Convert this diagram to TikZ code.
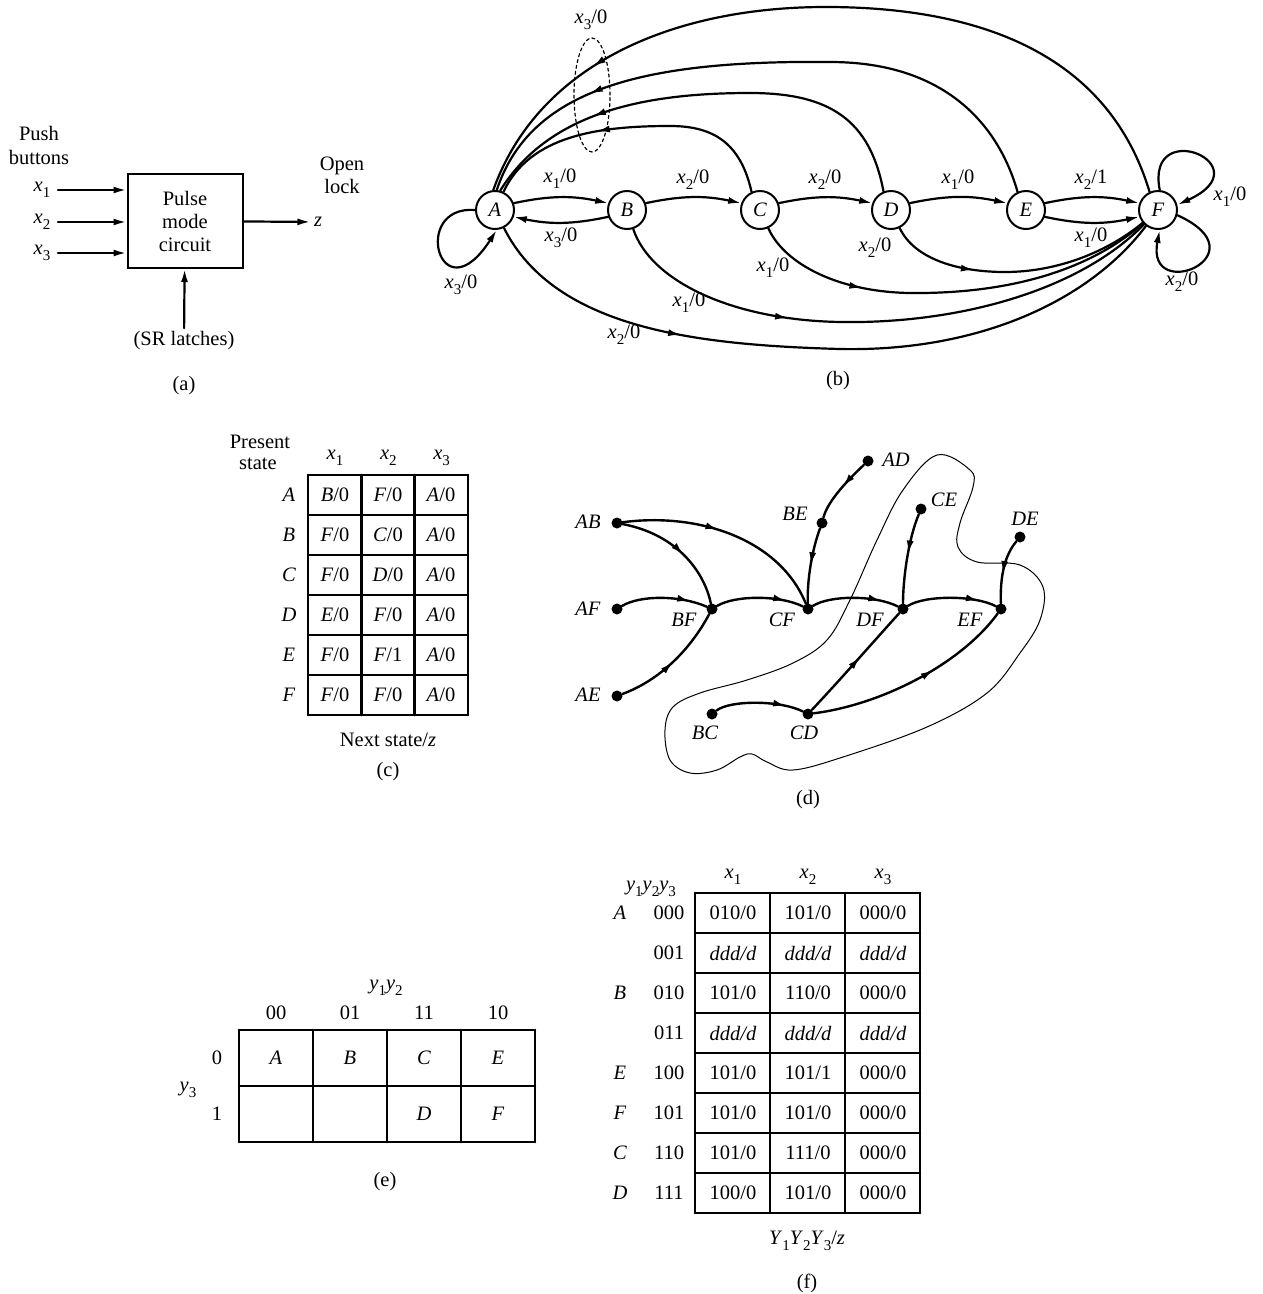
\documentclass[tikz,border=0pt]{standalone}
\usepackage{fontspec}
\setmainfont{Liberation Serif}
\usetikzlibrary{arrows.meta,decorations.markings}

\newcommand{\lbfont}{\fontsize{20.5}{23}\selectfont}
\newcommand{\sbx}[2]{\textit{#1}\raisebox{-0.28em}{\fontsize{15}{15}\selectfont #2}}

\tikzset{
  state/.style={circle, draw, line width=2pt, minimum size=38pt, inner sep=0pt},
  wire/.style={line width=2.2pt},
  dline/.style={line width=2.4pt},
  gridline/.style={line width=2.6pt},
  midarrow/.style={postaction={decorate},
    decoration={markings, mark=at position #1 with {\arrow{>}}}},
  dot/.style={circle, fill, inner sep=0pt, minimum size=11pt},
}

\begin{document}
\begin{tikzpicture}[x=1pt, y=-1pt, font=\lbfont, >={Latex[length=13pt,width=7pt]}, line cap=round]

  %% ==== (a) block diagram ====
  \node (push) at (39,133) {Push};
  \node (buttons) at (39,157) {buttons};
  \node[draw, line width=2pt, minimum width=115pt, minimum height=94pt, align=center]
    (pmc) at (185,221) {Pulse\\mode\\circuit};
  \node (x1) at (42,190) {\sbx{x}{1}};
  \node (x2) at (42,222) {\sbx{x}{2}};
  \node (x3) at (42,253) {\sbx{x}{3}};
  \foreach \n in {x1,x2,x3}
    \draw[wire,->,shorten <=4pt] (\n.east) -- (\n -| pmc.west);
  \node (z) at (318,222) {\textit{z}};
  \draw[wire,->] (pmc) -- (z);
  \node[align=center] (open) at (342,175) {Open\\lock};
  \node (sr) at (184,341) {(SR latches)};
  \draw[wire,->] (sr) -- (pmc);
  \node (capa) at (184,386) {(a)};

  %% ==== (b) state diagram ====
  \node[state] (A) at (495,210) {\textit{A}};
  \node[state] (B) at (627,210) {\textit{B}};
  \node[state] (C) at (760,210) {\textit{C}};
  \node[state] (D) at (891,210) {\textit{D}};
  \node[state] (E) at (1026,210) {\textit{E}};
  \node[state] (F) at (1158,210) {\textit{F}};

  % forward chain
  \draw[wire,->] (A.20) to[bend left=12] (B.160);
  \draw[wire,->] (B.200) to[bend left=12] (A.-20);
  \draw[wire,->] (B.20) to[bend left=12] (C.160);
  \draw[wire,->] (C.20) to[bend left=12] (D.160);
  \draw[wire,->] (D.20) to[bend left=12] (E.160);
  \draw[wire,->] (E.20) to[bend left=12] (F.160);
  \draw[wire,->] (E.-20) to[bend right=12] (F.200);

  % self loops
  \draw[wire,->] (A.west) .. controls (410,205) and (440,318) .. (A.-85);
  \draw[wire,->] (F.85) .. controls (1145,115) and (1265,165) .. (F.15);
  \draw[wire,->] (F.-15) .. controls (1265,255) and (1145,305) .. (F.-85);

  % x3 returns to A
  \draw[wire, midarrow=0.8] (F.115) .. controls (1110,60) and (990,8) .. (830,7)
    .. controls (680,6) and (540,60) .. (A.95);
  \draw[wire, midarrow=0.78] (E.115) .. controls (1000,130) and (950,62) .. (830,62)
    .. controls (640,60) and (530,90) .. (A.85);
  \draw[wire, midarrow=0.74] (D.112) .. controls (870,120) and (830,93) .. (750,93)
    .. controls (650,93) and (550,110) .. (A.75);
  \draw[wire, midarrow=0.62] (C.115) .. controls (740,140) and (710,126) .. (670,126)
    .. controls (600,126) and (530,135) .. (A.65);
  \draw[dashed, line width=1.2pt] (592,95) ellipse (18pt and 57pt);

  % lower edges into F
  \draw[wire, midarrow=0.3] (A) .. controls (555,330) and (700,345) .. (840,349)
    .. controls (980,352) and (1090,300) .. (F);
  \draw[wire, midarrow=0.33] (B) .. controls (650,280) and (730,320) .. (840,322)
    .. controls (960,324) and (1080,290) .. (F);
  \draw[wire, midarrow=0.28] (C) .. controls (785,265) and (840,292) .. (910,293)
    .. controls (1010,294) and (1090,270) .. (F);
  \draw[wire, midarrow=0.33] (D) .. controls (915,260) and (960,272) .. (1005,272)
    .. controls (1060,272) and (1110,250) .. (F);

  % edge labels
  \node (lAB) at (560,179) {\sbx{x}{1}/0};
  \node (lBA) at (561,238) {\sbx{x}{3}/0};
  \node (lBC) at (693,180) {\sbx{x}{2}/0};
  \node (lCD) at (825,180) {\sbx{x}{2}/0};
  \node (lDE) at (958,180) {\sbx{x}{1}/0};
  \node (lEF) at (1091,180) {\sbx{x}{2}/1};
  \node (lEFb) at (1091,238) {\sbx{x}{1}/0};
  \node (lAA) at (461,285) {\sbx{x}{3}/0};
  \node (lFF) at (1230,197) {\sbx{x}{1}/0};
  \node (lFFb) at (1182,282) {\sbx{x}{2}/0};
  \node (lDF) at (875,248) {\sbx{x}{2}/0};
  \node (lCF) at (773,268) {\sbx{x}{1}/0};
  \node (lBF) at (689,303) {\sbx{x}{1}/0};
  \node (lAF) at (624,335) {\sbx{x}{2}/0};
  \node (lback) at (591,20) {\sbx{x}{3}/0};
  \node (capb) at (838,381) {(b)};

  %% ==== (c) state table ====
  \node (present) at (260,442) {Present};
  \node (pstate) at (258,464) {state};
  \foreach \h [count=\j from 0] in {1,2,3}
    \node (hc\h) at ({335+53.3*\j},458) {\sbx{x}{\h}};
  \foreach \gx in {308,361.3,414.7,468}
    \draw[gridline] (\gx,475) -- (\gx,715);
  \foreach \gy in {475,515,...,715}
    \draw[gridline] (308,\gy) -- (468,\gy);
  \foreach \r/\a/\b/\c/\zb [count=\i from 0] in
      {A/B/F/A/0, B/F/C/A/0, C/F/D/A/0, D/E/F/A/0, E/F/F/A/1, F/F/F/A/0} {
    \node (ps\r) at (289,{495+40*\i}) {\textit{\r}};
    \node (ns\r1) at (335,{495+40*\i}) {\textit{\a}/0};
    \node (ns\r2) at (388,{495+40*\i}) {\textit{\b}/\zb};
    \node (ns\r3) at (441,{495+40*\i}) {\textit{\c}/0};
  }
  \node (nsz) at (388,740) {Next state/\textit{z}};
  \node (capc) at (388,772) {(c)};

  %% ==== (d) implication graph ====
  \node[dot] (AB) at (617,523) {};
  \node[dot] (AF) at (617,609) {};
  \node[dot] (AE) at (617,696) {};
  \node[dot] (BF) at (712,609) {};
  \node[dot] (CF) at (808,609) {};
  \node[dot] (DF) at (903,609) {};
  \node[dot] (EF) at (1001,609) {};
  \node[dot] (BC) at (712,714) {};
  \node[dot] (CD) at (808,714) {};
  \node[dot] (BE) at (822,523) {};
  \node[dot] (AD) at (868,461) {};
  \node[dot] (CE) at (921,509) {};
  \node[dot] (DE) at (1020,537) {};
  \foreach \p/\tx/\ty in {AB/588/522, AF/588/609, AE/588/695, BF/684/620, CF/782/620,
      DF/870/620, EF/970/620, BC/705/733, CD/804/733, BE/795/514, AD/896/460,
      CE/944/500, DE/1025/519}
    \node (t\p) at (\tx,\ty) {\textit{\p}};

  \draw[dline, midarrow=0.55] (AB) .. controls (680,535) and (705,575) .. (BF);
  \draw[dline, midarrow=0.45] (AB) .. controls (700,512) and (780,540) .. (CF);
  \draw[dline, midarrow=0.8] (AF) .. controls (640,595) and (680,595) .. (BF);
  \draw[dline, midarrow=0.5] (AE) .. controls (660,680) and (690,650) .. (BF);
  \draw[dline, midarrow=0.8] (BF) .. controls (735,595) and (780,595) .. (CF);
  \draw[dline, midarrow=0.8] (CF) .. controls (830,595) and (875,595) .. (DF);
  \draw[dline, midarrow=0.8] (DF) .. controls (925,595) and (975,595) .. (EF);
  \draw[dline, midarrow=0.45] (AD) .. controls (850,478) and (828,500) .. (BE);
  \draw[dline, midarrow=0.5] (BE) .. controls (812,550) and (807,580) .. (CF);
  \draw[dline, midarrow=0.45] (CE) .. controls (908,540) and (903,580) .. (DF);
  \draw[dline, midarrow=0.55] (DE) .. controls (1005,555) and (1000,575) .. (EF);
  \draw[dline, midarrow=0.8] (BC) .. controls (730,700) and (780,700) .. (CD);
  \draw[dline, midarrow=0.55] (CD) .. controls (840,680) and (875,640) .. (DF);
  \draw[dline, midarrow=0.6] (CD) .. controls (880,705) and (960,665) .. (EF);

  % enclosing contour
  \draw[line width=1pt] plot[smooth cycle, tension=0.6] coordinates {
    (937,455) (970,470) (973,487) (960,523) (958,547) (977,562) (1020,565)
    (1043,587) (1040,620) (1020,653) (987,693) (927,727) (843,757) (793,770)
    (767,762) (752,754) (740,757) (717,770) (690,773) (670,760) (665,730)
    (673,707) (700,693) (747,680) (793,663) (827,640) (850,600) (877,540)
    (903,490)};
  \node (capd) at (808,800) {(d)};

  %% ==== (e) state assignment map ====
  \node (ky12) at (386,988) {\sbx{y}{1}\sbx{y}{2}};
  \node (ky3) at (188,1090) {\sbx{y}{3}};
  \foreach \cl [count=\j from 0] in {00,01,11,10}
    \node (kc\cl) at ({276+74*\j},1013) {\cl};
  \node (kr0) at (217,1058) {0};
  \node (kr1) at (217,1114) {1};
  \foreach \gx in {239,313,387,461,535}
    \draw[gridline] (\gx,1030) -- (\gx,1142);
  \foreach \gy in {1030,1086,1142}
    \draw[gridline] (239,\gy) -- (535,\gy);
  \foreach \s/\sx/\sy in {A/276/1058, B/350/1058, C/424/1058, E/498/1058,
      D/424/1114, F/498/1114}
    \node (k\s) at (\sx,\sy) {\textit{\s}};
  \node (cape) at (385,1182) {(e)};

  %% ==== (f) transition table ====
  \node (fy) at (651,889) {\sbx{y}{1}\sbx{y}{2}\sbx{y}{3}};
  \foreach \h [count=\j from 0] in {1,2,3}
    \node (fh\h) at ({733+75*\j},877) {\sbx{x}{\h}};
  \foreach \gx in {695,770,845,920}
    \draw[gridline] (\gx,893) -- (\gx,1213);
  \foreach \gy in {893,933,...,1213}
    \draw[gridline] (695,\gy) -- (920,\gy);
  \foreach \s/\cd/\a/\b/\c [count=\i from 0] in
      {A/000/{010/0}/{101/0}/{000/0},
       {}/001/{\textit{ddd/d}}/{\textit{ddd/d}}/{\textit{ddd/d}},
       B/010/{101/0}/{110/0}/{000/0},
       {}/011/{\textit{ddd/d}}/{\textit{ddd/d}}/{\textit{ddd/d}},
       E/100/{101/0}/{101/1}/{000/0},
       F/101/{101/0}/{101/0}/{000/0},
       C/110/{101/0}/{111/0}/{000/0},
       D/111/{100/0}/{101/0}/{000/0}} {
    \node (fs\cd) at (620,{913+40*\i}) {\textit{\s}};
    \node (fc\cd) at (669,{913+40*\i}) {\cd};
    \node (fa\cd) at (733,{913+40*\i}) {\a};
    \node (fb\cd) at (808,{913+40*\i}) {\b};
    \node (fd\cd) at (883,{913+40*\i}) {\c};
  }
  \node (fz) at (807,1241) {\sbx{Y}{1}\sbx{Y}{2}\sbx{Y}{3}/\textit{z}};
  \node (capf) at (807,1283) {(f)};

  \pgfresetboundingbox
  \path[use as bounding box] (0,0) rectangle (1263,1294);
\end{tikzpicture}
\end{document}
